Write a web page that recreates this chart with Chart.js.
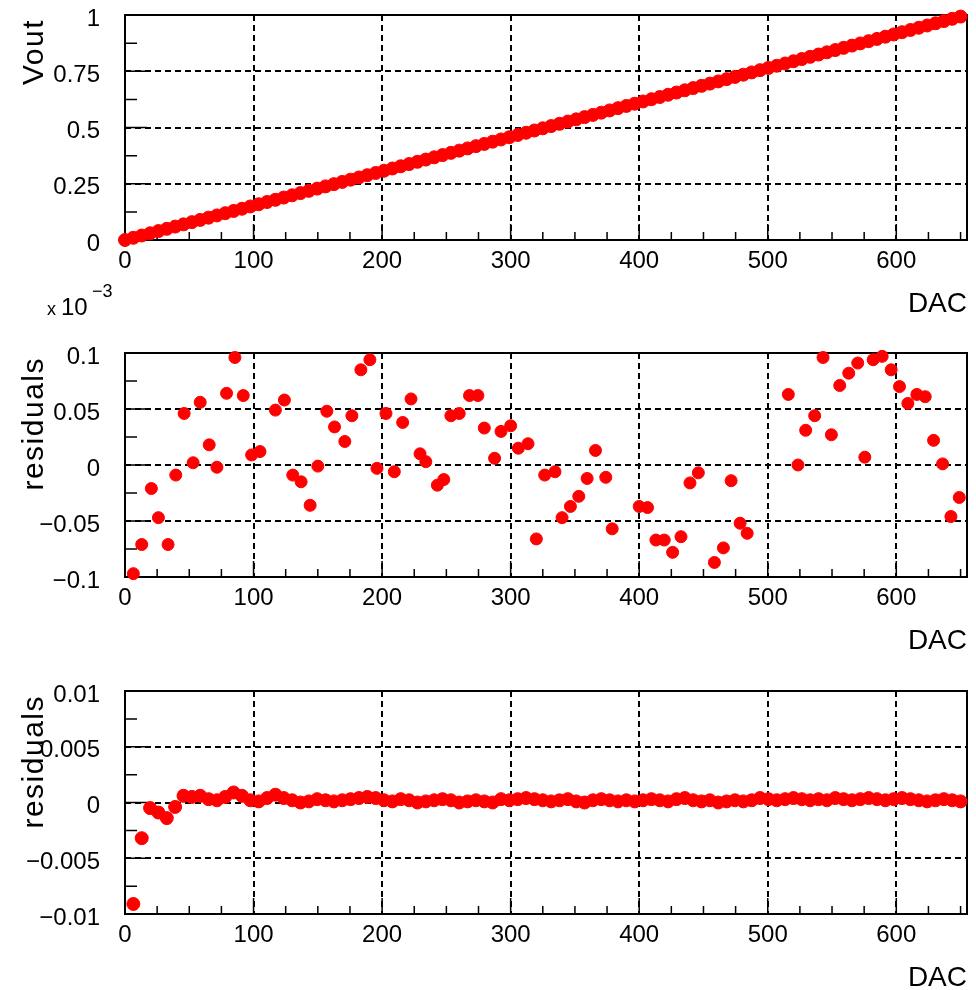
<!DOCTYPE html>
<html>
<head>
<meta charset="utf-8">
<script src="https://cdn.jsdelivr.net/npm/chart.js@4.4.1/dist/chart.umd.min.js"></script>
<style>
  body { margin: 0; background: #fff; }
  #wrap { position: relative; width: 976px; height: 990px; }
  #wrap canvas { position: absolute; left: 0; top: 0; }
</style>
</head>
<body>
<div id="wrap">
  <canvas id="padVout" width="976" height="990"></canvas>
  <canvas id="padRes" width="976" height="990"></canvas>
  <canvas id="padRel" width="976" height="990"></canvas>
</div>
<script>
// ---- values ----
const xTicks = [0, 100, 200, 300, 400, 500, 600];
const voutTicks = [0, 0.25, 0.5, 0.75, 1];
const resTicks = [-0.1, -0.05, 0, 0.05, 0.1];        // x 10^-3
const relTicks = [-0.01, -0.005, 0, 0.005, 0.01];

// top pad: Vout vs DAC
const dacVout = [0, 6.5, 13, 19.5, 26, 32.5, 39, 45.5, 52, 58.5, 65, 71.5, 78, 84.5, 91, 97.5,
  104, 110.5, 117, 123.5, 130, 136.5, 143, 149.5, 156, 162.5, 169, 175.5, 182, 188.5, 195, 201.5,
  208, 214.5, 221, 227.5, 234, 240.5, 247, 253.5, 260, 266.5, 273, 279.5, 286, 292.5, 299, 305.5,
  312, 318.5, 325, 331.5, 338, 344.5, 351, 357.5, 364, 370.5, 377, 383.5, 390, 396.5, 403, 409.5,
  416, 422.5, 429, 435.5, 442, 448.5, 455, 461.5, 468, 474.5, 481, 487.5, 494, 500.5, 507, 513.5,
  520, 526.5, 533, 539.5, 546, 552.5, 559, 565.5, 572, 578.5, 585, 591.5, 598, 604.5, 611, 617.5,
  624, 630.5, 637, 643.5, 650];
const vout = [0, 0.0099, 0.0199, 0.0298, 0.0397, 0.0497, 0.0596, 0.0695, 0.0794, 0.0894, 0.0993,
  0.1092, 0.1192, 0.1291, 0.1390, 0.1490, 0.1589, 0.1688, 0.1787, 0.1887, 0.1986, 0.2085, 0.2185,
  0.2284, 0.2383, 0.2483, 0.2582, 0.2681, 0.2780, 0.2880, 0.2979, 0.3078, 0.3178, 0.3277, 0.3376,
  0.3476, 0.3575, 0.3674, 0.3773, 0.3873, 0.3972, 0.4071, 0.4171, 0.4270, 0.4369, 0.4469, 0.4568,
  0.4667, 0.4766, 0.4866, 0.4965, 0.5064, 0.5164, 0.5263, 0.5362, 0.5462, 0.5561, 0.5660, 0.5759,
  0.5859, 0.5958, 0.6057, 0.6157, 0.6256, 0.6355, 0.6455, 0.6554, 0.6653, 0.6752, 0.6852, 0.6951,
  0.7050, 0.7150, 0.7249, 0.7348, 0.7448, 0.7547, 0.7646, 0.7745, 0.7845, 0.7944, 0.8043, 0.8143,
  0.8242, 0.8341, 0.8441, 0.8540, 0.8639, 0.8738, 0.8838, 0.8937, 0.9036, 0.9136, 0.9235, 0.9334,
  0.9434, 0.9533, 0.9632, 0.9731, 0.9831, 0.9930];

// middle pad: residuals (x 10^-3)
const dacRes = [6.5, 13, 20.5, 26, 33.5, 39.5, 46, 53, 58.5, 65.5, 71.5, 79, 85.5, 92, 98.5, 105,
  117, 124, 130.5, 137, 144, 150, 157, 163, 171, 176.5, 183.5, 190.5, 196, 203, 209.5, 216, 222.5,
  229.5, 234, 243, 248, 253.5, 260, 268, 274.5, 279.5, 287.5, 292.5, 300, 306, 313.5, 320, 326.5,
  334.5, 340, 346.5, 353, 359.5, 366, 374, 379, 400, 406.5, 413, 419.5, 426, 432.5, 439.5, 446,
  458.5, 465.5, 471.5, 478.5, 484, 516, 523.5, 529.5, 536.5, 543, 549.5, 556, 563, 570, 575.5, 582,
  589, 596, 602.5, 609, 616, 622.5, 629, 636, 642.5, 649];
const residuals = [-0.097, -0.071, -0.021, -0.047, -0.071, -0.009, 0.046, 0.002, 0.056, 0.018,
  -0.002, 0.064, 0.096, 0.062, 0.009, 0.012, 0.049, 0.058, -0.009, -0.015, -0.036, -0.001, 0.048,
  0.034, 0.021, 0.044, 0.085, 0.094, -0.003, 0.046, -0.006, 0.038, 0.059, 0.010, 0.003, -0.018,
  -0.013, 0.044, 0.046, 0.062, 0.062, 0.033, 0.006, 0.030, 0.035, 0.015, 0.019, -0.066, -0.009,
  -0.006, -0.047, -0.037, -0.028, -0.012, 0.013, -0.011, -0.057, -0.037, -0.038, -0.067, -0.067,
  -0.078, -0.064, -0.016, -0.007, -0.087, -0.074, -0.014, -0.052, -0.061, 0.063, 0.000, 0.031,
  0.044, 0.096, 0.027, 0.071, 0.082, 0.091, 0.007, 0.094, 0.097, 0.085, 0.070, 0.055, 0.063,
  0.061, 0.022, 0.001, -0.046, -0.029];

// bottom pad: residuals
const dacRel = dacVout.slice(1);
const relResiduals = [-0.0091, -0.0032, -0.0005, -0.0009, -0.0014, -0.0004, 0.0006, 0.0005,
  0.0006, 0.0003, 0.0002, 0.0005, 0.0009, 0.0006, 0.0002, 0.0001, 0.0004, 0.0007, 0.0004, 0.0002,
  0.0000, 0.0001, 0.0003, 0.0002, 0.0001, 0.0002, 0.0003, 0.0004, 0.0005, 0.0004, 0.0002, 0.0001,
  0.0003, 0.0002, 0.0000, 0.0001, 0.0002, 0.0003, 0.0002, 0.0000, 0.0001, 0.0002, 0.0001, 0.0000,
  0.0003, 0.0002, 0.0003, 0.0004, 0.0003, 0.0002, 0.0001, 0.0002, 0.0003, 0.0001, 0.0000, 0.0002,
  0.0003, 0.0002, 0.0001, 0.0002, 0.0001, 0.0002, 0.0003, 0.0002, 0.0001, 0.0003, 0.0004, 0.0002,
  0.0001, 0.0002, 0.0000, 0.0001, 0.0002, 0.0001, 0.0002, 0.0004, 0.0003, 0.0002, 0.0003, 0.0004,
  0.0003, 0.0002, 0.0003, 0.0002, 0.0004, 0.0003, 0.0002, 0.0003, 0.0004, 0.0003, 0.0002, 0.0003,
  0.0004, 0.0003, 0.0002, 0.0001, 0.0002, 0.0003, 0.0002, 0.0001];

const FONT = "'Liberation Sans', Arial, Helvetica, sans-serif";
Chart.defaults.font.family = FONT;
Chart.defaults.color = '#000';

// ROOT-like frame: solid box, inward ticks, rotated y title, "DAC" label
const rootPad = {
  id: 'rootPad',
  beforeDatasetsDraw(chart, args, opts) {
    const { ctx, chartArea: a, scales: { x, y } } = chart;
    ctx.save();
    ctx.strokeStyle = '#000';
    ctx.lineWidth = 1.5;
    ctx.beginPath();
    for (let v = 0; v <= x.max; v += 25) {
      const px = x.getPixelForValue(v);
      const len = v % 100 === 0 ? 16 : 8;
      ctx.moveTo(px, a.bottom);
      ctx.lineTo(px, a.bottom - len);
    }
    const n = Math.round((y.max - y.min) / opts.yMinor);
    for (let i = 0; i <= n; i++) {
      const py = y.getPixelForValue(y.min + i * opts.yMinor);
      const len = i % 2 === 0 ? 22 : 12;
      ctx.moveTo(a.left, py);
      ctx.lineTo(a.left + len, py);
    }
    ctx.stroke();
    ctx.lineWidth = 2;
    ctx.strokeRect(a.left, a.top, a.right - a.left, a.bottom - a.top);
    ctx.restore();
  },
  afterDraw(chart, args, opts) {
    const { ctx, chartArea: a } = chart;
    ctx.save();
    ctx.fillStyle = '#000';
    // y title, reading upward, top end near the frame top
    ctx.translate(43, a.top + 4);
    ctx.rotate(-Math.PI / 2);
    ctx.font = '30px ' + FONT;
    ctx.letterSpacing = '1.5px';
    ctx.textAlign = 'right';
    ctx.textBaseline = 'alphabetic';
    ctx.fillText(opts.title, 0, 0);
    ctx.restore();

    ctx.save();
    ctx.fillStyle = '#000';
    ctx.font = '28px ' + FONT;
    ctx.textAlign = 'right';
    ctx.fillText('DAC', a.right, a.bottom + 72);
    if (opts.exponent) {
      ctx.textAlign = 'left';
      ctx.font = '18px ' + FONT;
      ctx.fillText('x', 47, a.top - 38);
      ctx.font = '24px ' + FONT;
      ctx.fillText('10', 61, a.top - 38);
      ctx.font = '18px ' + FONT;
      ctx.fillText('\u22123', 92, a.top - 56);
    }
    ctx.restore();
  }
};

const fmt = v => String(v).replace('-', '\u2212');

function makePad(id, xs, ys, yTicks, yMinor, top, bottom, title, exponent, radius) {
  const points = xs.map((d, i) => ({ x: d, y: ys[i] }));
  return new Chart(document.getElementById(id), {
    type: 'scatter',
    data: {
      datasets: [{
        data: points,
        pointRadius: radius,
        pointBackgroundColor: '#ff0000',
        pointBorderColor: '#ff0000',
        pointBorderWidth: 1,
        clip: false
      }]
    },
    options: {
      responsive: false,
      animation: false,
      events: [],
      layout: { padding: { top: top, bottom: bottom, left: 0, right: 9 } },
      plugins: {
        legend: { display: false },
        tooltip: { enabled: false },
        rootPad: { title: title, yMinor: yMinor, exponent: exponent }
      },
      scales: {
        x: {
          type: 'linear',
          min: 0,
          max: 655,
          afterBuildTicks: s => { s.ticks = xTicks.map(v => ({ value: v })); },
          afterFit: s => { s.height = 60; s.paddingLeft = 0; s.paddingRight = 0; },
          grid: { color: '#000', lineWidth: 2, drawTicks: false },
          border: { display: false, dash: [6, 4] },
          ticks: { font: { size: 24 }, padding: 7, maxRotation: 0, autoSkip: false, callback: fmt }
        },
        y: {
          type: 'linear',
          min: yTicks[0],
          max: yTicks[yTicks.length - 1],
          afterBuildTicks: s => { s.ticks = yTicks.map(v => ({ value: v })); },
          afterFit: s => { s.width = 125; s.paddingTop = 0; s.paddingBottom = 0; },
          grid: { color: '#000', lineWidth: 2, drawTicks: false },
          border: { display: false, dash: [6, 4] },
          ticks: { font: { size: 24 }, padding: 25, labelOffset: 4, autoSkip: false, callback: fmt }
        }
      }
    },
    plugins: [rootPad]
  });
}

makePad('padVout', dacVout, vout, voutTicks, 0.125, 15, 690, 'Vout', false, 6.5);
makePad('padRes', dacRes, residuals, resTicks, 0.025, 353, 353, 'residuals', true, 6);
makePad('padRel', dacRel, relResiduals, relTicks, 0.0025, 691, 16, 'residuals', false, 6.5);
</script>
</body>
</html>
